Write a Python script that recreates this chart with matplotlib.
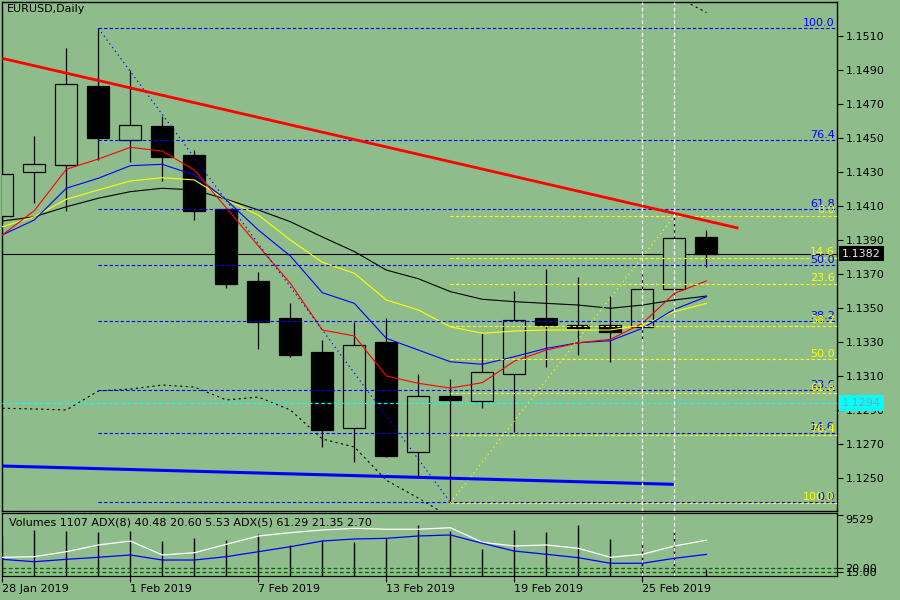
import numpy as np
import matplotlib
matplotlib.use("Agg")
import matplotlib.pyplot as plt
import matplotlib.transforms as mtransforms

BG = "#8fbc8b"

# daily bars, 28 Jan 2019 .. 27 Feb 2019
dates = ["28 Jan 2019", "29 Jan", "30 Jan", "31 Jan", "1 Feb 2019", "4 Feb", "5 Feb", "6 Feb",
         "7 Feb 2019", "8 Feb", "11 Feb", "12 Feb", "13 Feb 2019", "14 Feb", "15 Feb", "18 Feb",
         "19 Feb 2019", "20 Feb", "21 Feb", "22 Feb", "25 Feb 2019", "26 Feb", "27 Feb"]
opens = [1.1404, 1.1430, 1.1434, 1.1481, 1.1449, 1.1457, 1.1440, 1.1408, 1.1366, 1.1344, 1.1324, 1.1279,
         1.1330, 1.1265, 1.1298, 1.1295, 1.1311, 1.1344, 1.1340, 1.1340, 1.1339, 1.1361, 1.1392]
highs = [1.1437, 1.1451, 1.1503, 1.1515, 1.1490, 1.1463, 1.1443, 1.1409, 1.1371, 1.1353, 1.1331, 1.1342,
         1.1344, 1.1311, 1.1308, 1.1335, 1.1360, 1.1373, 1.1368, 1.1357, 1.1370, 1.1404, 1.1396]
lows = [1.1400, 1.1412, 1.1407, 1.1437, 1.1436, 1.1425, 1.1402, 1.1362, 1.1326, 1.1321, 1.1268, 1.1259,
        1.1262, 1.1250, 1.1235, 1.1291, 1.1277, 1.1315, 1.1322, 1.1318, 1.1330, 1.1354, 1.1374]
closes = [1.1429, 1.1435, 1.1482, 1.1450, 1.1458, 1.1439, 1.1407, 1.1364, 1.1342, 1.1322, 1.1278, 1.1328,
          1.1263, 1.1298, 1.1296, 1.1312, 1.1343, 1.1340, 1.1338, 1.1336, 1.1361, 1.1391, 1.1382]

# moving averages
ma_red = [1.13930, 1.14073, 1.14317, 1.14377, 1.14446, 1.14424, 1.14312, 1.14089, 1.13865, 1.13645, 1.13370,
          1.13335, 1.13099, 1.13056, 1.13028, 1.13060, 1.13187, 1.13252, 1.13295, 1.13315, 1.13409, 1.13586, 1.13659]
ma_blue = [1.13930, 1.14018, 1.14205, 1.14264, 1.14338, 1.14346, 1.14283, 1.14136, 1.13959, 1.13806, 1.13590,
           1.13527, 1.13321, 1.13252, 1.13183, 1.13168, 1.13213, 1.13262, 1.13295, 1.13307, 1.13380, 1.13492, 1.13566]
ma_yellow = [1.13978, 1.14037, 1.14140, 1.14195, 1.14248, 1.14267, 1.14254, 1.14136, 1.14047, 1.13900, 1.13769,
             1.13704, 1.13547, 1.13488, 1.13389, 1.13351, 1.13364, 1.13370, 1.13370, 1.13370, 1.13399, 1.13478, 1.13527]
ma_black = [1.14012, 1.14037, 1.14096, 1.14146, 1.14185, 1.14205, 1.14195, 1.14140, 1.14077, 1.14008, 1.13918,
            1.13832, 1.13723, 1.13672, 1.13596, 1.13551, 1.13537, 1.13527, 1.13517, 1.13498, 1.13517, 1.13547, 1.13570]
# dotted band line (goes off-chart in the middle)
band = [1.12909, 1.12905, 1.12899, 1.13011, 1.13022, 1.13046, 1.13034, 1.12958, 1.12975, 1.12899, 1.12728,
        1.12681, 1.12485, 1.12380, 1.12268, np.nan, np.nan, np.nan, np.nan, np.nan, np.nan, 1.15340, 1.15240]

volumes = [6200, 7185, 7030, 6920, 7030, 5470, 5890, 5625, 6515, 4840, 5625, 5360, 5890, 7965, 7030,
           4220, 7185, 6825, 7965, 5780, 5265, 6920, 1107]
adx5 = [36.2, 37.1, 44.4, 54.3, 60.1, 39.6, 42.9, 55.3, 67.5, 72.4, 76.3, 78.8, 77.4, 77.4, 79.7,
        58.2, 52.8, 54.3, 49.4, 36.2, 40.6, 52.8, 61.29]
adx8 = [33.2, 29.7, 33.2, 36.2, 39.6, 32.2, 32.2, 37.1, 44.4, 51.8, 60.1, 63.1, 64.1, 67.5, 69.0,
        56.8, 45.4, 40.6, 35.6, 27.4, 27.4, 34.7, 40.48]

# drawn objects
trend_red_x = [0, 23]
trend_red_y = [1.1497, 1.1397]
trend_blue_x = [0, 21]
trend_blue_y = [1.12569, 1.12461]
fib_levels = [0.0, 14.6, 23.6, 38.2, 50.0, 61.8, 76.4, 100.0]
fib_blue = (3, 1.15147, 14, 1.12355)     # from high to low
fib_yellow = (14, 1.12353, 21, 1.14041)  # from low to high
bid = 1.1382
cyan_level = 1.1294
vlines_at = [20, 21]
label_idx = [0, 4, 8, 12, 16, 20]

x = np.arange(len(opens))
o = np.array(opens); c = np.array(closes)

fig = plt.figure(figsize=(9, 6), dpi=100, facecolor=BG)
ax = fig.add_axes([2 / 900, 89 / 600, 835 / 900, 509 / 600], facecolor=BG)
axs = fig.add_axes([2 / 900, 24 / 600, 835 / 900, 63 / 600], facecolor=BG)
xmin, xmax = -0.01, 26.08
ax.set_xlim(xmin, xmax)
axs.set_xlim(xmin, xmax)
ax.set_ylim(1.12304, 1.15302)

# candles
ax.vlines(x, lows, highs, color="black", lw=0.9, zorder=2)
up = c >= o
body_h = np.abs(c - o)
body_h = np.where(body_h < 0.00005, 0.00005, body_h)
ax.bar(x[up], body_h[up], bottom=o[up], width=0.69, facecolor=BG, edgecolor="black", lw=0.9, zorder=3)
ax.bar(x[~up], body_h[~up], bottom=c[~up], width=0.69, facecolor="black", edgecolor="black", lw=0.9, zorder=3)

# MAs
ax.plot(x, ma_black, color="black", lw=0.8, zorder=4)
ax.plot(x, ma_yellow, color="yellow", lw=0.8, zorder=4)
ax.plot(x, ma_blue, color="blue", lw=0.8, zorder=4)
ax.plot(x, ma_red, color="red", lw=0.8, zorder=4)
ax.plot(x, band, color="black", lw=0.8, ls=(0, (2, 3)), zorder=4)

# price lines
ax.axhline(bid, color="black", lw=0.8, zorder=1)
ax.axhline(cyan_level, color="cyan", lw=0.9, ls=(0, (3, 2)), zorder=4)

# fibonacci
def draw_fib(f, color, from_high):
    x0, p0, x1, p1 = f
    hi, lo = max(p0, p1), min(p0, p1)
    for lv in fib_levels:
        if from_high:
            p = lo + lv / 100 * (hi - lo)
        else:
            p = hi - lv / 100 * (hi - lo)
        ax.plot([x0, xmax], [p, p], color=color, lw=0.8, ls=(0, (3, 2)), zorder=5)
        ax.text(xmax - 0.07, p + 0.00004, "%.1f" % lv, color=color, fontsize=8, ha="right", va="bottom", zorder=6)
    ax.plot([x0, x1], [p0, p1], color=color, lw=0.8, ls=(0, (1.2, 3)), zorder=5)

draw_fib(fib_blue, "blue", True)
draw_fib(fib_yellow, "yellow", False)

# trendlines
ax.plot(trend_red_x, trend_red_y, color="red", lw=2.0, zorder=6, solid_capstyle="butt")
ax.plot(trend_blue_x, trend_blue_y, color="blue", lw=2.2, zorder=6, solid_capstyle="butt")

# vertical white dashed lines on both panels
for a in (ax, axs):
    for v in vlines_at:
        a.axvline(v, color="white", lw=0.9, ls=(0, (3, 2)), zorder=7)

# right price scale
ax.yaxis.tick_right()
ax.set_yticks(np.arange(1.1250, 1.1511, 0.002))
ax.set_yticklabels(["%.4f" % t for t in np.arange(1.1250, 1.1511, 0.002)])
ax.tick_params(axis="y", direction="out", length=4, width=0.8, labelsize=8, pad=2)
ax.set_xticks([])
for sp in ax.spines.values():
    sp.set_linewidth(1)

trans = mtransforms.blended_transform_factory(ax.transAxes, ax.transData)
ax.text(1.006, bid, "%.4f" % bid, transform=trans, fontsize=8, color="#e8e8e8", va="center", ha="left",
        bbox=dict(facecolor="black", edgecolor="none", pad=2), zorder=10, clip_on=False)
ax.text(1.006, cyan_level, "%.4f" % cyan_level, transform=trans, fontsize=8, color="#8c9c9c", va="center",
        ha="left", bbox=dict(facecolor="cyan", edgecolor="none", pad=2), zorder=10, clip_on=False)

fig.text(7 / 900, 1 - 4 / 600, "EURUSD,Daily", fontsize=8, va="top", ha="left")

# sub window: volumes + ADX
axs.vlines(x, 0, volumes, color="black", lw=1.0, zorder=2)
axs.set_ylim(0, 9841)

adx_ax = axs.twinx()
adx_ax.set_ylim(8.7, 101.3)
adx_ax.plot(x, adx5, color="white", lw=0.9, zorder=3)
adx_ax.plot(x, adx8, color="blue", lw=0.9, zorder=3)
for lv in (20, 15):
    adx_ax.axhline(lv, color="#006400", lw=0.9, ls=(0, (3, 2)))
adx_ax.set_yticks([20, 15])
adx_ax.set_yticklabels(["20.00", "15.00"])
adx_ax.tick_params(axis="y", direction="out", length=4, width=0.8, labelsize=8, pad=2)

# twinx moved the volume ticks to the left, put them back
axs.yaxis.tick_right()
axs.set_yticks([9529])
axs.set_yticklabels(["9529"])
for t in axs.get_yticklabels():
    t.set_va("top")
axs.tick_params(axis="y", direction="out", length=4, width=0.8, labelsize=8, pad=2)

axs.set_xticks(label_idx)
axs.set_xticklabels([dates[i] for i in label_idx], ha="left")
axs.tick_params(axis="x", direction="out", length=4, width=0.8, labelsize=8, pad=2)
axs.text(7 / 835 * (xmax - xmin) + xmin, 9841 * 0.93, "Volumes 1107 ADX(8) 40.48 20.60 5.53 ADX(5) 61.29 21.35 2.70",
         fontsize=8, va="top", ha="left", zorder=10)

fig.savefig("out.png", dpi=100, facecolor=BG)
